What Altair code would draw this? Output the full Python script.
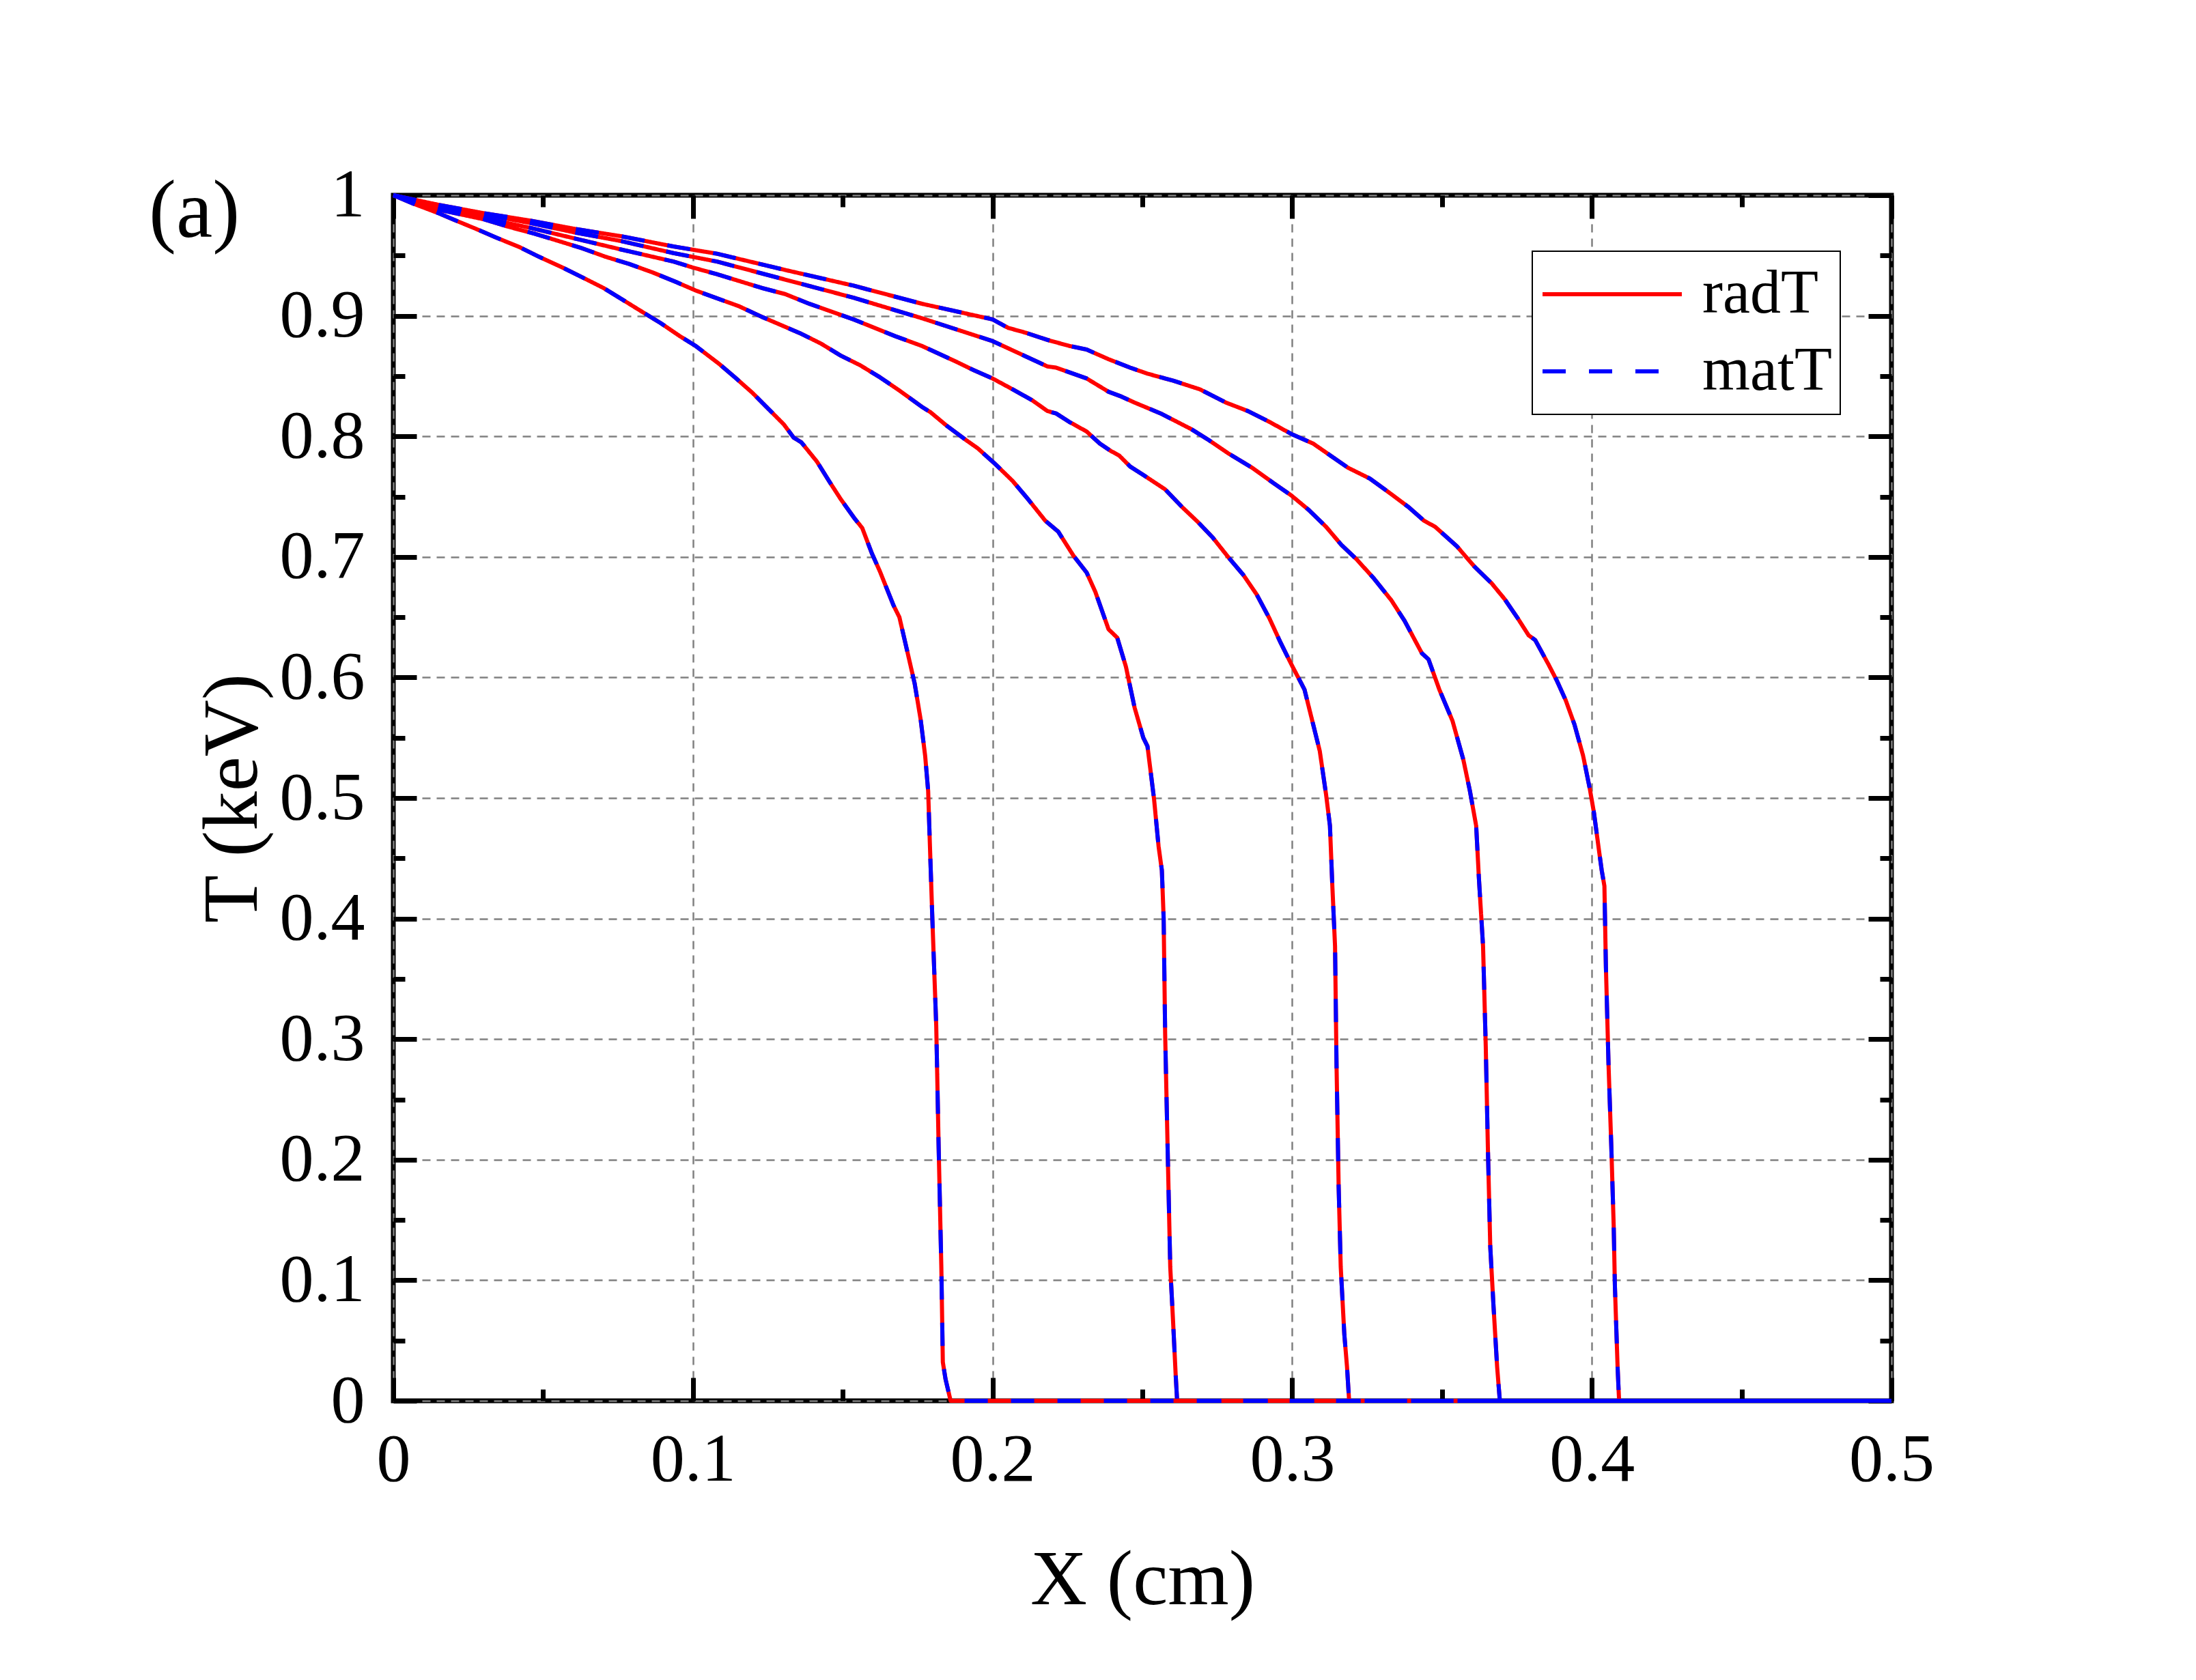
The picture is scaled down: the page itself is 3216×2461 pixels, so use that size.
import altair as alt
import pandas as pd

# ---- data (x in cm, T in keV); matT coincides with radT ----
x1 = [0.0, 0.0067, 0.0152, 0.0199, 0.0277, 0.0342, 0.0421, 0.0486, 0.0565, 0.0630, 0.0702, 0.0774, 0.0839, 0.0892, 0.0957, 0.1009, 0.1088, 0.1140, 0.1199, 0.1251, 0.1303, 0.1336, 0.1362, 0.1414, 0.1454, 0.1493, 0.1539, 0.1565, 0.1597, 0.1624, 0.1669, 0.1689, 0.1715, 0.1740, 0.1760, 0.1775, 0.1785, 0.1791, 0.1799, 0.1812, 0.1820, 0.1829, 0.1834, 0.1843, 0.1860, 0.5]
t1 = [1.0, 0.993, 0.985, 0.980, 0.972, 0.965, 0.957, 0.949, 0.940, 0.932, 0.923, 0.912, 0.902, 0.894, 0.883, 0.875, 0.860, 0.849, 0.836, 0.823, 0.810, 0.799, 0.795, 0.779, 0.763, 0.748, 0.732, 0.724, 0.703, 0.688, 0.660, 0.650, 0.622, 0.595, 0.565, 0.535, 0.506, 0.460, 0.400, 0.311, 0.211, 0.111, 0.032, 0.018, 0.0, 0.0]

x2 = [0.0, 0.0152, 0.0303, 0.0382, 0.0473, 0.0552, 0.0630, 0.0708, 0.0787, 0.0865, 0.0944, 0.1009, 0.1075, 0.1153, 0.1231, 0.1297, 0.1362, 0.1427, 0.1493, 0.1558, 0.1624, 0.1689, 0.1767, 0.1793, 0.1846, 0.1911, 0.1951, 0.2009, 0.2067, 0.2118, 0.2176, 0.2219, 0.2270, 0.2314, 0.2343, 0.2387, 0.2416, 0.2445, 0.2474, 0.2503, 0.2517, 0.2539, 0.2554, 0.2565, 0.2571, 0.2576, 0.2585, 0.2593, 0.2602, 0.2611, 0.2616, 0.5]
t2 = [1.0, 0.988, 0.980, 0.974, 0.968, 0.962, 0.956, 0.949, 0.943, 0.936, 0.928, 0.921, 0.915, 0.908, 0.899, 0.892, 0.885, 0.877, 0.867, 0.859, 0.849, 0.838, 0.824, 0.820, 0.809, 0.797, 0.790, 0.777, 0.763, 0.748, 0.730, 0.721, 0.701, 0.687, 0.671, 0.640, 0.633, 0.609, 0.575, 0.550, 0.543, 0.499, 0.460, 0.440, 0.400, 0.304, 0.201, 0.111, 0.068, 0.022, 0.0, 0.0]

x3 = [0.0, 0.0152, 0.0304, 0.0456, 0.0608, 0.0760, 0.0935, 0.1000, 0.1080, 0.1231, 0.1308, 0.1388, 0.1536, 0.1676, 0.1764, 0.1878, 0.1936, 0.2000, 0.2067, 0.2132, 0.2183, 0.2212, 0.2256, 0.2314, 0.2358, 0.2394, 0.2423, 0.2459, 0.2503, 0.2576, 0.2634, 0.2685, 0.2735, 0.2786, 0.2837, 0.2881, 0.2924, 0.2961, 0.2997, 0.3041, 0.3070, 0.3092, 0.3113, 0.3126, 0.3134, 0.3143, 0.3148, 0.3155, 0.3162, 0.3174, 0.3183, 0.3190, 0.5]
t3 = [1.0, 0.990, 0.981, 0.973, 0.964, 0.955, 0.945, 0.940, 0.9345, 0.923, 0.918, 0.910, 0.897, 0.883, 0.875, 0.862, 0.855, 0.848, 0.839, 0.830, 0.821, 0.819, 0.812, 0.804, 0.794, 0.788, 0.784, 0.775, 0.768, 0.756, 0.741, 0.729, 0.716, 0.700, 0.685, 0.669, 0.649, 0.629, 0.611, 0.590, 0.561, 0.539, 0.503, 0.477, 0.427, 0.377, 0.278, 0.178, 0.111, 0.055, 0.028, 0.0, 0.0]

x4 = [0.0, 0.0152, 0.0304, 0.0456, 0.0608, 0.0760, 0.0935, 0.1080, 0.1308, 0.1536, 0.1764, 0.2000, 0.2096, 0.2183, 0.2212, 0.2314, 0.2387, 0.2430, 0.2474, 0.2561, 0.2663, 0.2721, 0.2786, 0.2866, 0.2939, 0.2997, 0.3055, 0.3113, 0.3164, 0.3215, 0.3273, 0.3331, 0.3375, 0.3433, 0.3455, 0.3491, 0.3535, 0.3571, 0.3593, 0.3614, 0.3623, 0.3637, 0.3646, 0.3653, 0.3661, 0.3672, 0.3684, 0.3693, 0.5]
t4 = [1.0, 0.991, 0.984, 0.977, 0.969, 0.962, 0.952, 0.945, 0.930, 0.915, 0.898, 0.879, 0.868, 0.858, 0.857, 0.848, 0.837, 0.833, 0.828, 0.819, 0.806, 0.797, 0.786, 0.774, 0.761, 0.751, 0.739, 0.725, 0.710, 0.698, 0.682, 0.664, 0.647, 0.620, 0.615, 0.590, 0.564, 0.532, 0.506, 0.477, 0.434, 0.377, 0.294, 0.211, 0.128, 0.078, 0.028, 0.0, 0.0]

x5 = [0.0, 0.0152, 0.0304, 0.0456, 0.0608, 0.0760, 0.0935, 0.1080, 0.1308, 0.1536, 0.1764, 0.2000, 0.2052, 0.2110, 0.2183, 0.2256, 0.2314, 0.2387, 0.2459, 0.2517, 0.2605, 0.2692, 0.2779, 0.2852, 0.2924, 0.2997, 0.3070, 0.3128, 0.3186, 0.3259, 0.3331, 0.3390, 0.3440, 0.3477, 0.3549, 0.3608, 0.3666, 0.3709, 0.3753, 0.3789, 0.3811, 0.3855, 0.3884, 0.3913, 0.3942, 0.3971, 0.3993, 0.4007, 0.4022, 0.4033, 0.4042, 0.4047, 0.4056, 0.4065, 0.4073, 0.4077, 0.4086, 0.4091, 0.5]
t5 = [1.0, 0.992, 0.985, 0.979, 0.972, 0.966, 0.9575, 0.9515, 0.938, 0.925, 0.910, 0.897, 0.890, 0.886, 0.880, 0.875, 0.872, 0.864, 0.857, 0.852, 0.846, 0.839, 0.828, 0.821, 0.812, 0.802, 0.794, 0.784, 0.774, 0.765, 0.752, 0.741, 0.730, 0.725, 0.709, 0.692, 0.678, 0.665, 0.649, 0.635, 0.631, 0.611, 0.597, 0.581, 0.561, 0.535, 0.508, 0.488, 0.460, 0.440, 0.427, 0.360, 0.277, 0.211, 0.145, 0.095, 0.028, 0.0, 0.0]

series_names = ["radT", "matT"]
series_colors = ["#ff0000", "#0000ff"]
series_dash = [[1, 0], [34, 34]]

x_major = [0, 0.1, 0.2, 0.3, 0.4, 0.5]
x_minor = [0.05, 0.15, 0.25, 0.35, 0.45]
y_major = [0, 0.1, 0.2, 0.3, 0.4, 0.5, 0.6, 0.7, 0.8, 0.9, 1]
y_minor = [0.05, 0.15, 0.25, 0.35, 0.45, 0.55, 0.65, 0.75, 0.85, 0.95]

curves = [(x1, t1), (x2, t2), (x3, t3), (x4, t4), (x5, t5)]

rows = []
for s in series_names:
    for ci, (xs, ts) in enumerate(curves):
        for i, (xv, tv) in enumerate(zip(xs, ts)):
            rows.append({"series": s, "curve": f"{s}_{ci}", "i": i, "x": xv, "T": tv})
df = pd.DataFrame(rows)
df_rad = df[df.series == "radT"]
df_mat = df[df.series == "matT"]
df_axes = pd.DataFrame({"x": [0.0, 0.5], "T": [0.0, 1.0]})

FONT = "Liberation Serif"
W, H = 2194, 1766

xs_ = alt.Scale(domain=[0, 0.5], nice=False, zero=False)
ys_ = alt.Scale(domain=[0, 1], nice=False, zero=False)

GRID = dict(grid=True, gridColor="#808080", gridDash=[12, 9], gridWidth=2.5)


def axis(orient, values, size, labeled=False, grid=False, **extra):
    kw = dict(orient=orient, values=values, tickSize=size, offset=-size, tickWidth=7,
              tickColor="black", domain=False, ticks=True, labels=labeled, grid=False,
              zindex=0)
    if grid:
        kw.update(GRID)
    if labeled:
        kw.update(dict(format="~g", labelFont=FONT, labelFontSize=100, labelColor="black",
                       labelFlush=False, labelOverlap=False))
    kw.update(extra)
    return alt.Axis(**kw)


legend = alt.Legend(title=None, orient="none", legendX=1668, legendY=82, direction="vertical",
                    symbolType="stroke", symbolSize=41616, symbolStrokeWidth=6,
                    labelFont=FONT, labelFontSize=90, labelColor="black", labelLimit=600,
                    labelOffset=27, padding=12, rowPadding=11, clipHeight=102,
                    fillColor="white", strokeColor="black")

color = alt.Color("series:N", scale=alt.Scale(domain=series_names, range=series_colors), legend=legend)
dash = alt.StrokeDash("series:N", scale=alt.Scale(domain=series_names, range=series_dash), legend=legend)

x_main_axis = axis("bottom", x_major, 34, labeled=True, grid=True, labelPadding=37,
                   title="X (cm)", titleFont=FONT, titleFontSize=115, titleFontWeight="normal",
                   titleColor="black", titleX=W / 2, titleY=331, titleAlign="center",
                   titleBaseline="alphabetic")
y_main_axis = axis("left", y_major, 34, labeled=True, grid=True, labelPadding=42,
                   title="T (keV)", titleFont=FONT, titleFontSize=115, titleFontWeight="normal",
                   titleColor="black", titleX=-235, titleY=H / 2, titleAngle=270,
                   titleAlign="center", titleBaseline="alphabetic")

rad = alt.Chart(df_rad).mark_line(strokeWidth=6, strokeJoin="round").encode(
    x=alt.X("x:Q", scale=xs_, axis=x_main_axis),
    y=alt.Y("T:Q", scale=ys_, axis=y_main_axis),
    color=color, strokeDash=dash, detail="curve:N", order="i:Q",
)

mat = alt.Chart(df_mat).mark_line(strokeWidth=6, strokeJoin="round").encode(
    x=alt.X("x:Q", scale=xs_, axis=axis("bottom", x_minor, 17), title=None),
    y=alt.Y("T:Q", scale=ys_, axis=axis("left", y_minor, 17), title=None),
    color=color, strokeDash=dash, detail="curve:N", order="i:Q",
)

frame_major = alt.Chart(df_axes).mark_point(opacity=0).encode(
    x=alt.X("x:Q", scale=xs_, axis=axis("top", x_major, 34), title=None),
    y=alt.Y("T:Q", scale=ys_, axis=axis("right", y_major, 34), title=None),
)
frame_minor = alt.Chart(df_axes).mark_point(opacity=0).encode(
    x=alt.X("x:Q", scale=xs_, axis=axis("top", x_minor, 17), title=None),
    y=alt.Y("T:Q", scale=ys_, axis=axis("right", y_minor, 17), title=None),
)

chart = alt.layer(rad, mat, frame_major, frame_minor).resolve_axis(
    x="independent", y="independent"
).properties(
    width=W, height=H,
    title=alt.TitleParams("(a)", anchor="start", frame="group", orient="top", font=FONT,
                          fontSize=120, fontWeight="normal", color="black",
                          baseline="alphabetic", offset=0, dx=-358, dy=231),
    autosize=alt.AutoSizeParams(type="none"),
    padding={"left": 568, "top": 278, "right": 400, "bottom": 380},
).configure_view(stroke="black", strokeWidth=7).configure_legend(strokeWidth=2)

chart.save("out.html", embed_options={"renderer": "svg", "actions": False})
